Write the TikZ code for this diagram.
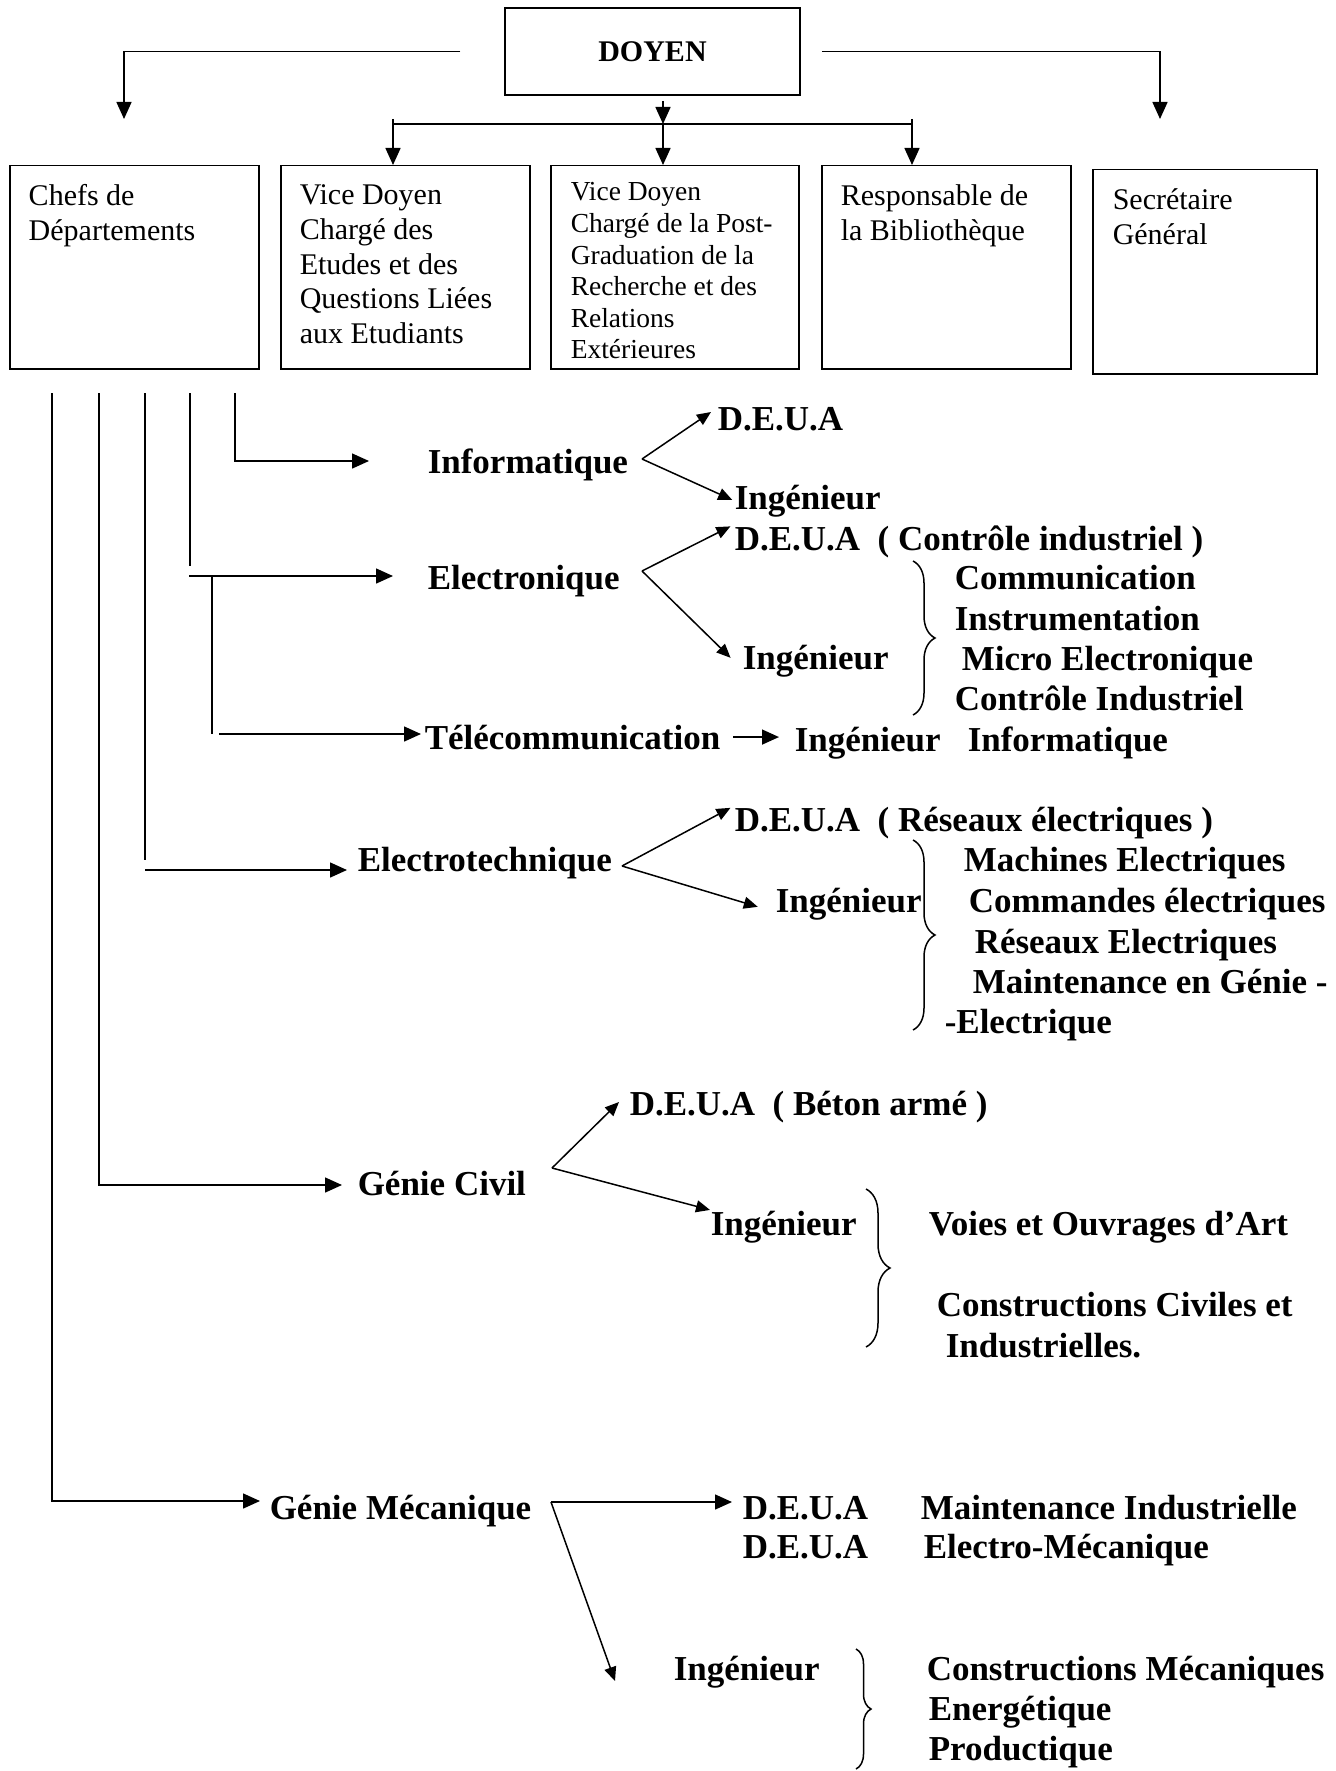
\documentclass[tikz,border=0pt]{standalone}
\usepackage{fontspec}
\setmainfont{Liberation Serif}
\usetikzlibrary{positioning, arrows.meta, decorations.pathreplacing}

\begin{document}
\begin{tikzpicture}[x=0.5pt, y=-0.5pt, line width=0.75pt,
    unit/.style={draw, rectangle, inner sep=0pt},
    boxtext/.style={anchor=north west, align=left, inner sep=0pt, font=\fontsize{15}{17.35}\selectfont},
    lbl/.style={anchor=base west, inner sep=0pt, font=\fontsize{17.5}{20.3}\selectfont\bfseries},
    arr/.style={-{Triangle[length=8.5pt, width=7.5pt]}},
    sarr/.style={-{Triangle[length=7pt, width=6pt]}},
    accol/.style={decorate, decoration={brace, amplitude=#1}}]
\useasboundingbox (0,0) rectangle (1335,1771) ;

\node[unit, minimum width=147.5pt, minimum height=43.5pt, font=\fontsize{15}{18}\selectfont\bfseries] at (652.5,51.5) (doyen) {DOYEN} ;
\node[unit, anchor=north west, minimum width=124.5pt, minimum height=101.5pt] at (9,165) (chefs) {} ;
\node[unit, anchor=north west, minimum width=124.5pt, minimum height=101.5pt] at (280,165) (vdetud) {} ;
\node[unit, anchor=north west, minimum width=124pt, minimum height=101.5pt] at (550,165) (vdpg) {} ;
\node[unit, anchor=north west, minimum width=124.5pt, minimum height=101.5pt] at (821,165) (biblio) {} ;
\node[unit, anchor=north west, minimum width=112pt, minimum height=102pt] at (1092,169) (sg) {} ;

\node[boxtext] at (28,184) (chefstxt) {Chefs de\\Départements} ;
\node[boxtext] at (299,184) (vdetudtxt) {Vice Doyen\\Chargé des\\Etudes et des\\Questions Liées\\aux Etudiants} ;
\node[boxtext, font=\fontsize{13.75}{15.8}\selectfont] at (570,182) (vdpgtxt) {Vice Doyen\\Chargé de la Post-\\Graduation de la\\Recherche et des\\Relations\\Extérieures} ;
\node[boxtext] at (840,184) (bibliotxt) {Responsable de\\la Bibliothèque} ;
\node[boxtext] at (1112,188) (sgtxt) {Secrétaire\\Général} ;

\coordinate (tl) at (124,119) ;
\coordinate (tr) at (1160,119) ;
\coordinate (b0) at (663,101) ;
\coordinate (b1) at (393,119) ;
\coordinate (b2) at (663,124) ;
\coordinate (b3) at (912,119) ;
\draw[arr] ([xshift=-22pt]doyen.west) -| (tl) ;
\draw[arr] ([xshift=10.5pt]doyen.east) -| (tr) ;
\draw[arr] (b0) -- (b2) ;
\draw (b1 |- b2) -- (b3 |- b2) ;
\draw[arr] (b1) -- (b1 |- vdetud.north) ;
\draw[arr] (b2) -- (b2 |- vdpg.north) ;
\draw[arr] (b3) -- (b3 |- biblio.north) ;

\coordinate (gm0) at (52,393) ;
\coordinate (gc0) at (99,393) ;
\coordinate (elt0) at (145,393) ;
\coordinate (elec0) at (190,393) ;
\coordinate (info0) at (235,393) ;
\coordinate (elec1) at (189,576) ;
\draw[arr] (info0) |- ++(134,68) ;
\draw (elec0) -- ++(0,173) ;
\draw[arr] (elec1) -- ++(204,0) ;
\draw (elec1) ++(23,0) -- ++(0,158) ;
\draw[arr] (elec1) ++(30,158) -- ++(202,0) ;
\draw (elt0) -- ++(0,467) ;
\draw[arr] (elt0) ++(0,477) -- ++(202,0) ;
\draw[arr] (gc0) |- ++(243,792) ;
\draw[arr] (gm0) |- ++(208,1108) ;

\node[lbl] at (427,473) (info) {Informatique} ;
\node[lbl] at (717,430) (infodeua) {D.E.U.A} ;
\node[lbl] at (734,509) (infoing) {Ingénieur} ;
\coordinate (infoapex) at (642,459) ;
\coordinate (infotip) at (711,412) ;
\draw[sarr] (infoapex) -- (infotip) ;
\draw[sarr, shorten >=1pt] (infoapex) -- (infoing.west) ;

\node[lbl] at (427,589) (elec) {Electronique} ;
\node[lbl] at (734,550) (elecdeua) {D.E.U.A\ \ ( Contrôle industriel )} ;
\node[lbl] at (742,669) (elecing) {Ingénieur} ;
\coordinate (elecapex) at (642,571) ;
\draw[sarr, shorten >=2pt] (elecapex) -- (elecdeua.north west) ;
\draw[sarr, shorten >=8pt] (elecapex) -- (elecing.base west) ;
\draw[accol=11pt] (913,561) -- (913,715) ;
\node[lbl] at (954,589) (elec1) {Communication} ;
\node[lbl] at (954,630) (elec2) {Instrumentation} ;
\node[lbl] at (961,670) (elec3) {Micro Electronique} ;
\node[lbl] at (954,710) (elec4) {Contrôle Industriel} ;

\node[lbl] at (424,749) (telecom) {Télécommunication} ;
\node[lbl] at (794,751) (telecoming) {Ingénieur} ;
\node[lbl] at (967,751) (telecominfo) {Informatique} ;
\draw[arr, shorten <=6pt, shorten >=7.5pt] (telecom.east) -- (telecom.east -| telecoming.west) ;

\node[lbl] at (357,871) (elt) {Electrotechnique} ;
\node[lbl] at (734,831) (eltdeua) {D.E.U.A\ \ ( Réseaux électriques )} ;
\node[lbl] at (775,912) (eltig) {Ingénieur} ;
\coordinate (eltapex) at (622,866) ;
\draw[sarr, shorten >=2pt] (eltapex) -- (eltdeua.north west) ;
\draw[sarr, shorten >=9pt] (eltapex) -- (eltig.base west) ;
\draw[accol=11pt] (913,840) -- (913,1030) ;
\node[lbl] at (963,871) (elt1) {Machines Electriques} ;
\node[lbl] at (968,912) (elt2) {Commandes électriques} ;
\node[lbl] at (974,953) (elt3) {Réseaux Electriques} ;
\node[lbl] at (972,993) (elt4) {Maintenance en Génie -} ;
\node[lbl] at (944,1033) (elt5) {-Electrique} ;

\node[lbl] at (357,1195) (gc) {Génie Civil} ;
\node[lbl] at (629,1115) (gcdeua) {D.E.U.A\ \ ( Béton armé )} ;
\node[lbl] at (710,1235) (gcing) {Ingénieur} ;
\coordinate (gcapex) at (552,1168) ;
\coordinate (gctip) at (619,1102) ;
\draw[sarr] (gcapex) -- (gctip) ;
\draw[sarr] (gcapex) -- (gcing.north west) ;
\draw[accol=12pt] (866,1189) -- (866,1347) ;
\node[lbl] at (928,1235) (gc1) {Voies et Ouvrages d’Art} ;
\node[lbl] at (936,1316) (gc2) {Constructions Civiles et} ;
\node[lbl] at (945,1357) (gc3) {Industrielles.} ;

\node[lbl] at (269,1519) (gm) {Génie Mécanique} ;
\node[lbl] at (742,1519) (gmdeua1) {D.E.U.A} ;
\node[lbl] at (920,1519) (gm1) {Maintenance Industrielle} ;
\node[lbl] at (742,1558) (gmdeua2) {D.E.U.A} ;
\node[lbl] at (923,1558) (gm2) {Electro-Mécanique} ;
\node[lbl] at (673,1680) (gming) {Ingénieur} ;
\coordinate (gmapex) at (551,1502) ;
\coordinate (gmtip) at (615,1681) ;
\draw[arr, shorten >=5pt] (gmapex) -- (gmapex -| gmdeua1.west) ;
\draw[sarr] (gmapex) -- (gmtip) ;
\draw[accol=7.5pt] (856,1649) -- (856,1769) ;
\node[lbl] at (926,1680) (gm3) {Constructions Mécaniques} ;
\node[lbl] at (928,1720) (gm4) {Energétique} ;
\node[lbl] at (928,1760) (gm5) {Productique} ;
\end{tikzpicture}
\end{document}
